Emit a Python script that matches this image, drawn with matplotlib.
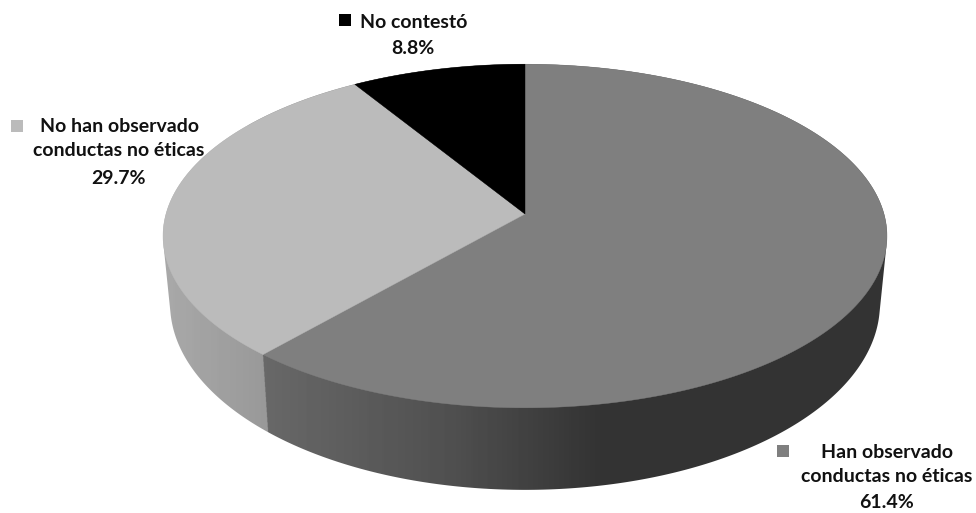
import numpy as np
import matplotlib
matplotlib.use("Agg")
import matplotlib.pyplot as plt
from matplotlib.patches import Polygon, Rectangle

# data
categories = ["Han observado\nconductas no éticas", "No han observado\nconductas no éticas", "No contestó"]
values = [61.4, 29.7, 8.8]
top_colors = ["#7f7f7f", "#bbbbbb", "#000000"]

plt.rcParams['font.family'] = ['Lato', 'DejaVu Sans']

fig = plt.figure(figsize=(9.76, 5.13), dpi=100)
ax = fig.add_axes([0, 0, 1, 1])
ax.axis("off")

K = 0.128


def project(theta, cx, cy, a, b):
    """Perspective projection of a circle; theta clockwise from the back."""
    u, v = np.sin(theta), -np.cos(theta)
    d = 1 - K * v
    return cx + a * u / d, cy + b * v / d


def hull(points):
    pts = sorted(set(map(tuple, points)))

    def half(seq):
        out = []
        for p in seq:
            while len(out) > 1 and ((out[-1][0] - out[-2][0]) * (p[1] - out[-2][1])
                                    - (out[-1][1] - out[-2][1]) * (p[0] - out[-2][0])) <= 0:
                out.pop()
            out.append(p)
        return out[:-1]

    return np.array(half(pts) + half(pts[::-1]))


TOP = (525, 214, 359, 169)
BOT = (525, 280, 352, 183)

fractions = np.array(values) / np.sum(values)
edges = np.concatenate([[0], np.cumsum(fractions)]) * 2 * np.pi

# side wall: one shaded image, split along the seam between the first two slices
th_all = np.linspace(0, 2 * np.pi, 1200)
pts_all = np.vstack([np.column_stack(project(th_all, *TOP)), np.column_stack(project(th_all, *BOT))])
wall_clip = Polygon(hull(pts_all), closed=True, transform=ax.transData, facecolor="none", edgecolor="none")
ax.add_patch(wall_clip)

xg = (np.arange(976 * 3) + 0.5) / 3
yg = (np.arange(513 * 3) + 0.5) / 3
X, Y = np.meshgrid(xg, yg)
x0, y0 = project(edges[1], *TOP)
x1, y1 = project(edges[1], *BOT)
seam_x = x0 + (Y - y0) * (x1 - x0) / (y1 - y0)
dark = np.interp(X, [265, 450, 600, 900], [0x68, 0x50, 0x33, 0x33])
light = np.interp(X, [170, 265], [0xa8, 0x99])
wall = np.where(X < seam_x, light, dark) / 255
im = ax.imshow(wall, cmap="gray", vmin=0, vmax=1, aspect="auto", extent=(0, 976, 513, 0),
               interpolation="antialiased", zorder=1)
im.set_clip_path(wall_clip)

for i in range(len(values)):
    th = np.linspace(edges[i], edges[i + 1], 300)
    xt, yt = project(th, *TOP)
    pts = np.column_stack([np.r_[TOP[0], xt], np.r_[TOP[1], yt]])
    ax.add_patch(Polygon(pts, closed=True, facecolor=top_colors[i], edgecolor=top_colors[i],
                         linewidth=0.3, zorder=2))

txt = dict(ha="center", va="center", fontsize=14, color="#111111", fontweight="bold", zorder=3)
lines = [
    (categories[0].split("\n")[0], 887, 452),
    (categories[0].split("\n")[1], 887, 477),
    (f"{values[0]}%", 887, 503),
    (categories[1].split("\n")[0], 119, 126),
    (categories[1].split("\n")[1], 119, 151),
    (f"{values[1]}%", 119, 178),
    (categories[2], 414, 22),
    (f"{values[2]}%", 413, 48),
]
for s, x, y in lines:
    ax.text(x, y, s, **txt)

for (x, y), c in zip([(777, 445), (11, 120), (339, 14)], top_colors):
    ax.add_patch(Rectangle((x, y), 12, 12, facecolor=c, edgecolor="none", zorder=3))

ax.set_xlim(0, 976)
ax.set_ylim(513, 0)
fig.savefig("out.png", dpi=100, facecolor="white")
